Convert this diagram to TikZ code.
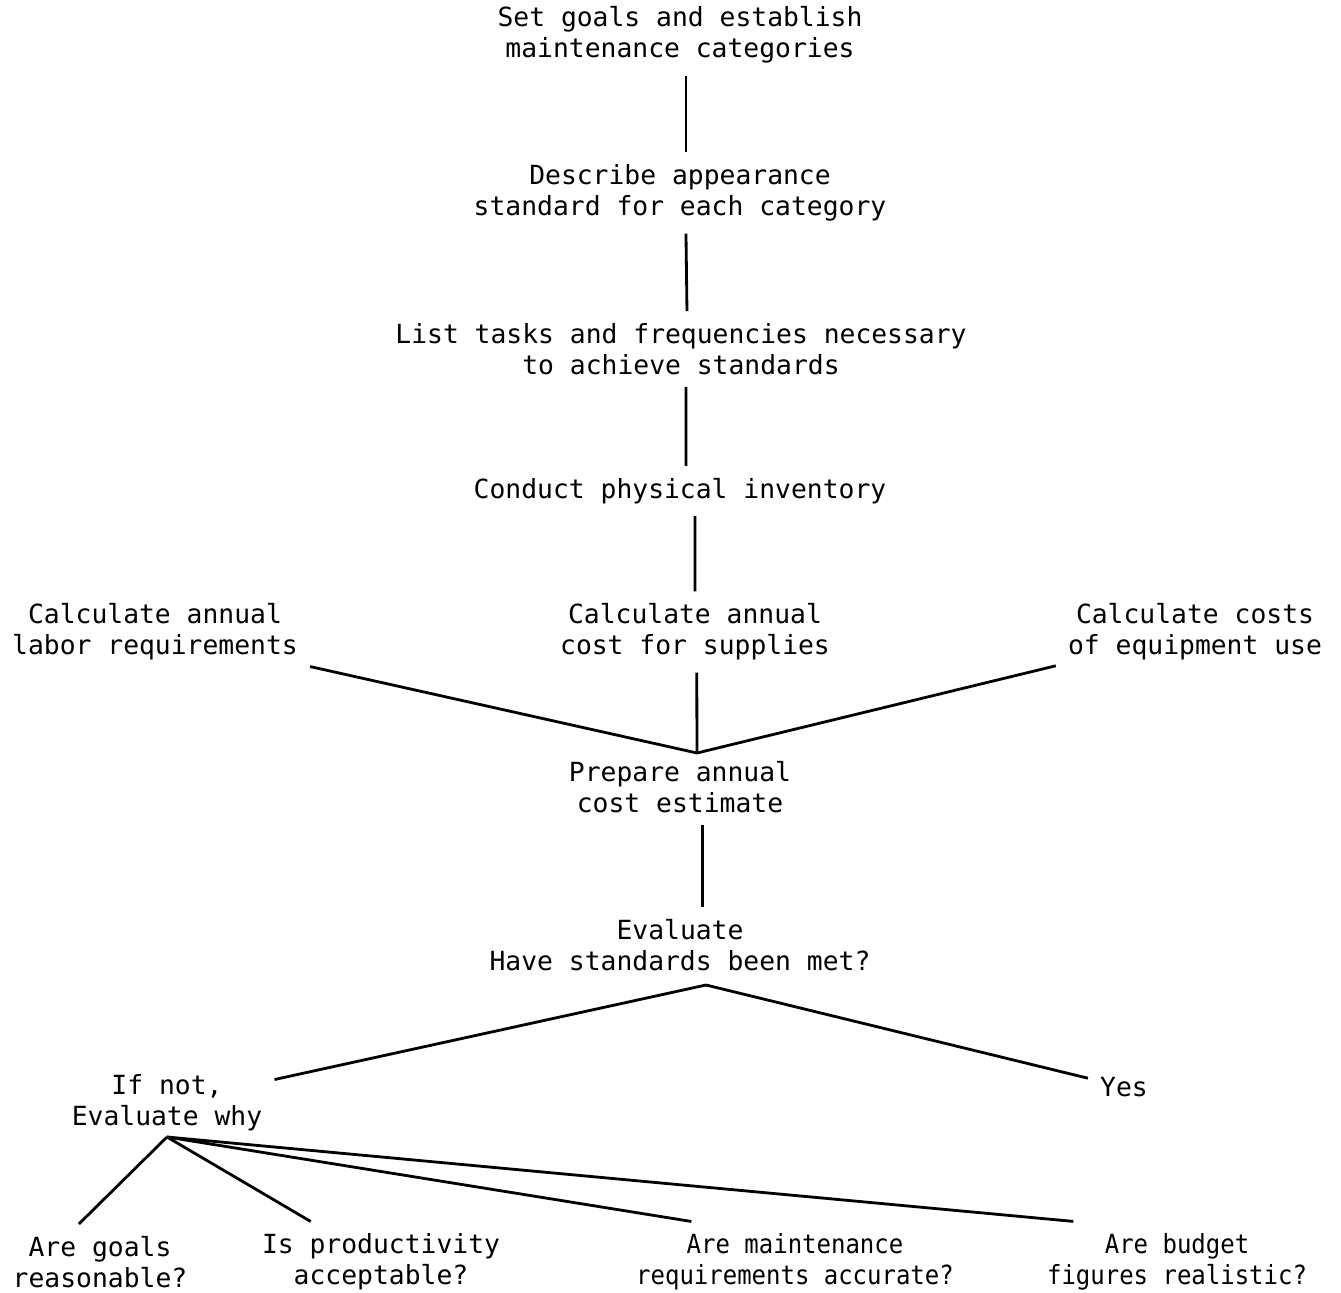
\documentclass[tikz,border=0pt]{standalone}
\usepackage{fontspec}
\newfontfamily\flowfont{DejaVu Sans Mono}
\newfontfamily\flownarrow[FakeStretch=0.91]{DejaVu Sans Mono}
\tikzset{
  box/.style={font=\flowfont\fontsize{15}{17.6}\selectfont, align=center, inner sep=0pt, outer sep=7pt},
  narrowbox/.style={box, font=\flownarrow\fontsize{15}{17.6}\selectfont},
  link/.style={line width=1.6pt}
}
\begin{document}
\begin{tikzpicture}[x=0.02cm,y=-0.02cm]
    \useasboundingbox (0,0) rectangle (1341,1293);

    % Main column of steps
    \node[box] (goalset) at (680,35) {Set goals and establish\\maintenance categories};
    \node[box] (describe) at (680,193) {Describe appearance\\standard for each category};
    \node[box] (tasks) at (681,349) {List tasks and frequencies necessary\\to achieve standards};
    \node[box] (inventory) at (680,491) {Conduct physical inventory};

    % Three cost calculations
    \node[box] (labor) at (155,632) {Calculate annual\\labor requirements};
    \node[box] (supplies) at (695,632) {Calculate annual\\cost for supplies};
    \node[box] (equip) at (1195,632) {Calculate costs\\of equipment use};

    \node[box] (estimate) at (680,787) {Prepare annual\\cost estimate};
    \node[box] (evaluate) at (680,945) {Evaluate\\Have standards been met?};

    % Outcomes
    \node[box] (ifnot) at (167,1103) {If not,\\Evaluate why};
    \node[box] (yes) at (1124,1087) {Yes};

    % Questions
    \node[box] (qgoals) at (100,1262) {Are goals\\reasonable?};
    \node[box] (qprod) at (381,1262) {Is productivity\\acceptable?};
    \node[narrowbox] (qmaint) at (795,1262) {Are maintenance\\requirements accurate?};
    \node[narrowbox] (qbudget) at (1177,1262) {Are budget\\figures realistic?};

    % Junction points
    \coordinate (merge) at (697,753);
    \coordinate (split) at (706,985);
    \coordinate (why) at (167,1137);

    % Connectors
    \draw[link] ([xshift=3.4pt]goalset.south) -- ([xshift=3.4pt]describe.north);
    \draw[link] ([xshift=3.4pt]describe.south) -- ([xshift=3.4pt]tasks.north);
    \draw[link] ([xshift=2.8pt]tasks.south) -- ([xshift=3.4pt]inventory.north);
    \draw[link] ([xshift=8.5pt]inventory.south) -- (supplies.north);
    \draw[link] ([xshift=1pt]supplies.south) -- (merge);
    \draw[link] (labor) -- (merge);
    \draw[link] (equip) -- (merge);
    \draw[link] ([xshift=13pt]estimate.south) -- ([xshift=13pt]evaluate.north);
    \draw[link] (split) -- (ifnot);
    \draw[link] (split) -- (yes);
    \draw[link] (why) -- ([xshift=-12pt]qgoals.north);
    \draw[link] (why) -- ([xshift=-40pt]qprod.north);
    \draw[link] (why) -- ([xshift=-59pt]qmaint.north);
    \draw[link] (why) -- ([xshift=-59pt]qbudget.north);
\end{tikzpicture}
\end{document}
